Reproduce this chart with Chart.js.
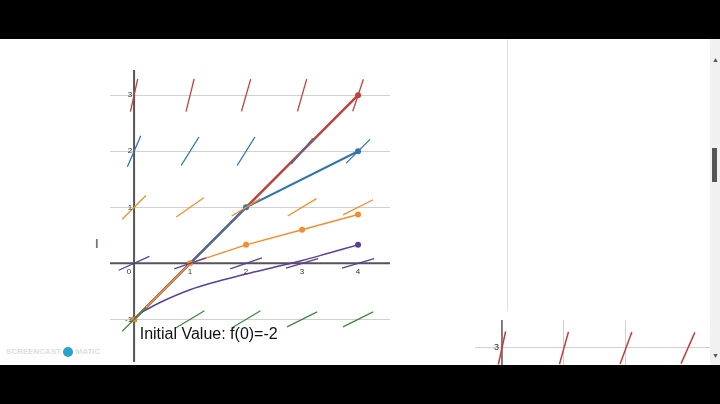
<!DOCTYPE html><html><head><meta charset="utf-8">
<script src="https://cdn.jsdelivr.net/npm/chart.js@4/dist/chart.umd.min.js"></script>
<style>
body{margin:0;width:720px;height:404px;background:#fff;position:relative;overflow:hidden;font-family:"Liberation Sans",Arial,sans-serif}
.bar{position:absolute;left:0;width:720px;background:#000;z-index:5}
#c1{position:absolute;left:105px;top:65px}
#c2{position:absolute;left:470px;top:315px}
</style></head><body>
<div class="bar" style="top:0;height:39px"></div>
<div class="bar" style="top:365px;height:39px"></div>
<div style="position:absolute;left:507px;top:39px;width:1px;height:272px;background:#ddd"></div>
<div style="position:absolute;left:710px;top:39px;width:10px;height:326px;background:#f1f1f1"></div>
<div style="position:absolute;left:712px;top:148px;width:5px;height:34px;background:#555"></div>
<div style="position:absolute;left:712px;top:56px;color:#555;font-size:7px">▲</div>
<div style="position:absolute;left:712px;top:352px;color:#555;font-size:7px">▼</div>
<div style="position:absolute;left:95px;top:236px;font-size:13px;color:#444">I</div>
<canvas id="c1" width="290" height="302"></canvas>
<canvas id="c2" width="245" height="60"></canvas>
<div style="position:absolute;left:6px;top:338px;color:#fff;font-size:4px;z-index:6">RECORDED WITH</div>
<div style="position:absolute;left:6px;top:347px;color:#ddd;font-size:8px;font-weight:bold;z-index:6">SCREENCAST <span style="display:inline-block;width:10px;height:10px;border-radius:50%;background:#2aa3c8;vertical-align:middle"></span> MATIC</div>
<script>
const gridX=[0,1,2,3,4];
const gridY=[-1,0,1,2,3];
const rowColors=['#3e8a3e','#5a3f9a','#f28e2b','#2f75b0','#c0413a'];
const slopes={ // rows y=-1..3, columns x=0..4
 '-1':[1,0.6,0.6,0.5,0.5],
 '0':[0.45,0.35,0.35,0.3,0.3],
 '1':[1,0.7,0.6,0.6,0.5],
 '2':[2.3,1.6,1.6,1.2,1],
 '3':[4.5,4,3.5,3.5,3]};
const redX=[0,1,2,4], redY=[-1,0,1,3];
const blueX=[0,1,2,4], blueY=[-1,0,1,2];
const orangeX=[0,1,2,3,4], orangeY=[-1,0,0.33,0.6,0.87];
const purpleX=[0,0.1,0.25,0.5,1,1.5,2,2.5,3,3.5,4];
const purpleY=[-1,-0.9,-0.81,-0.68,-0.47,-0.32,-0.19,-0.07,0.05,0.19,0.33];
const half=0.3;
const ds=[];
gridY.forEach((y,r)=>gridX.forEach((x,i)=>{
 const m=slopes[y][i],dx=half/Math.sqrt(1+m*m);
 ds.push({data:[{x:x-dx,y:y-m*dx},{x:x+dx,y:y+m*dx}],borderColor:rowColors[r],borderWidth:1.3,pointRadius:0,showLine:true});
}));
const pts=(X,Y)=>X.map((x,i)=>({x,y:Y[i]}));
ds.push({data:pts(purpleX,purpleY),borderColor:'#5a3f9a',borderWidth:1.5,cubicInterpolationMode:'monotone',showLine:true,pointRadius:c=>c.dataIndex===purpleX.length-1?3:0,pointBackgroundColor:'#5a3f9a',pointBorderWidth:0});
ds.push({data:pts(orangeX,orangeY),borderColor:'#f28e2b',borderWidth:1.5,showLine:true,pointRadius:3,pointBackgroundColor:'#f28e2b',pointBorderWidth:0});
ds.push({data:pts(blueX,blueY),borderColor:'#2f75b0',borderWidth:2,showLine:true,pointRadius:c=>c.dataIndex>=2?3:0,pointBackgroundColor:'#2f75b0',pointBorderWidth:0});
ds.push({data:pts(redX,redY),borderColor:'#c0413a',borderWidth:2.5,showLine:true,pointRadius:c=>c.dataIndex===3?3:0,pointBackgroundColor:'#c0413a',pointBorderWidth:0});
ds.push({data:[{x:0,y:-1}],pointRadius:3,pointBackgroundColor:'#111',showLine:false});
const ticksPlugin={id:'tk',afterDraw(ch){const c=ch.ctx,xs=ch.scales.x,ys=ch.scales.y;c.save();c.font='8px Liberation Sans';c.fillStyle='#333';
 const x0=xs.getPixelForValue(0),y0=ys.getPixelForValue(0);
 c.textAlign='center';c.textBaseline='top';gridX.forEach(v=>c.fillText(String(v),xs.getPixelForValue(v)-(v===0?5:0),y0+4));
 c.textAlign='right';c.textBaseline='middle';gridY.forEach(v=>{if(v!==0)c.fillText(String(v),x0-2,ys.getPixelForValue(v))});
 c.font='16px Liberation Sans';c.fillStyle='#111';c.textAlign='left';c.fillText('Initial Value: f(0)=-2',xs.getPixelForValue(0.1),ys.getPixelForValue(-1.27));
 c.restore();},
 beforeDatasetsDraw(ch){const c=ch.ctx,xs=ch.scales.x,ys=ch.scales.y;c.save();c.strokeStyle='#555';c.lineWidth=2;c.beginPath();
 const x0=xs.getPixelForValue(0),y0=ys.getPixelForValue(0);c.moveTo(x0,ch.chartArea.top);c.lineTo(x0,ch.chartArea.bottom);
 if(y0>=ch.chartArea.top&&y0<=ch.chartArea.bottom){c.moveTo(ch.chartArea.left,y0);c.lineTo(ch.chartArea.right,y0);}c.stroke();c.restore();}};
const gridOpt={color:c=>Number.isInteger(c.tick.value)?'#d0d0d0':'rgba(0,0,0,0)',drawTicks:false};
new Chart(document.getElementById('c1'),{type:'scatter',data:{datasets:ds},plugins:[ticksPlugin],
 options:{responsive:false,animation:false,layout:{padding:5},plugins:{legend:{display:false},tooltip:{enabled:false}},
 scales:{x:{type:'linear',min:-0.43,max:4.57,ticks:{display:false,stepSize:1},grid:gridOpt,border:{display:false}},
 y:{type:'linear',min:-1.76,max:3.45,ticks:{display:false,stepSize:1},grid:gridOpt,border:{display:false}}}}});
// second, partly visible chart
const miniX=[0,1,2,3];
const miniSlope=[5,4,3,2.5];
const ds2=miniX.map((x,i)=>{const m=miniSlope[i],dx=0.3/Math.sqrt(1+m*m);return {data:[{x:x-dx,y:3-m*dx},{x:x+dx,y:3+m*dx}],borderColor:'#c0413a',borderWidth:1.5,pointRadius:0,showLine:true};});
new Chart(document.getElementById('c2'),{type:'scatter',data:{datasets:ds2},plugins:[{id:'t2',
 beforeDatasetsDraw(ch){const c=ch.ctx,x0=ch.scales.x.getPixelForValue(0);c.save();c.strokeStyle='#555';c.lineWidth=1.5;c.beginPath();c.moveTo(x0,ch.chartArea.top);c.lineTo(x0,ch.chartArea.bottom);c.stroke();c.restore();},
 afterDraw(ch){const c=ch.ctx;c.save();c.font='9px Liberation Sans';c.fillStyle='#333';c.textAlign='right';c.textBaseline='middle';c.fillText('3',ch.scales.x.getPixelForValue(0)-3,ch.scales.y.getPixelForValue(3));c.restore();}}],
 options:{responsive:false,animation:false,layout:{padding:5},plugins:{legend:{display:false},tooltip:{enabled:false}},
 scales:{x:{type:'linear',min:-0.435,max:3.355,ticks:{display:false,stepSize:1},grid:gridOpt,border:{display:false}},
 y:{type:'linear',min:2.607,max:3.5,ticks:{display:false,stepSize:1},grid:gridOpt,border:{display:false}}}}});
</script></body></html>
